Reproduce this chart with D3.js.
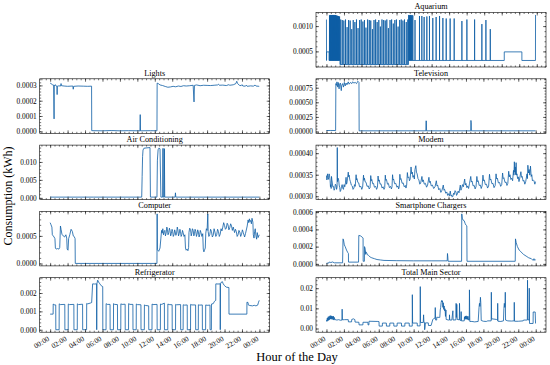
<!DOCTYPE html>
<html><head><meta charset="utf-8">
<script src="https://cdn.jsdelivr.net/npm/d3@7"></script>
<style>
body{margin:0;background:#fff}
svg{display:block}
text{font-family:"Liberation Serif","DejaVu Serif",serif;fill:#000}
</style>
</head><body>
<svg id="c" width="550" height="365"></svg>
<script>
// ---------------- DATA (hours of day, kWh) ----------------
const xTickHours = [0,2,4,6,8,10,12,14,16,18,20,22,24];
const xTickLabels = ['00:00','02:00','04:00','06:00','08:00','10:00','12:00','14:00','16:00','18:00','20:00','22:00','00:00'];

const aquariumStart = [[0,0.00113],[0.01,0.00032],[0.02,0.00049]];
const aquariumBase = [[0,0.00049],[0.3,0.00032],[1.54,0.00024],[9.35,0.00032],[20.29,0.00049],[22.3,0.00032]];
const aquariumSpikes = [
 [0.34,0.00121],[0.39,0.00122],[0.44,0.00121],[0.49,0.00122],[0.54,0.00122],[0.59,0.00121],[0.64,0.00122],[0.69,0.00122],
 [0.74,0.00121],[0.79,0.00122],[0.84,0.00122],[0.89,0.00121],[0.94,0.00122],[0.99,0.00121],[1.04,0.00122],[1.09,0.00121],
 [1.14,0.0012],[1.19,0.00121],[1.24,0.0012],[1.29,0.0012],[1.34,0.00119],[1.39,0.0012],[1.44,0.00118],[1.49,0.00119],
 [1.62,0.00113],[1.8,0.00112],[1.98,0.00111],[2.17,0.00113],[2.35,0.00098],[2.52,0.00112],[2.7,0.00111],[2.88,0.00094],
 [3.05,0.00112],[3.24,0.00108],[3.42,0.00113],[3.6,0.00096],[3.78,0.00112],[3.96,0.00113],[4.15,0.00109],[4.33,0.00112],
 [4.5,0.00097],[4.69,0.00113],[4.88,0.00112],[5.05,0.00111],[5.24,0.00094],[5.42,0.00112],[5.6,0.00113],[5.78,0.00108],
 [5.97,0.00112],[6.15,0.00099],[6.33,0.00113],[6.52,0.00112],[6.7,0.00111],[6.88,0.00113],[7.06,0.00096],[7.25,0.00112],
 [7.43,0.00113],[7.62,0.00105],[7.8,0.00112],[7.98,0.00113],[8.17,0.00099],[8.35,0.00112],[8.53,0.00113],[8.72,0.00111],
 [8.9,0.00113],[9.1,0.00108],[9.28,0.00113],
 [9.38,0.00122],[9.45,0.00121],[9.52,0.00122],[9.6,0.00122],[9.68,0.00121],[9.76,0.00122],[9.85,0.00121],
 [10.1,0.00112],[10.61,0.0012],[10.88,0.0012],[11.14,0.00118],[11.45,0.00119],[11.75,0.0012],[12.13,0.00116],
 [12.51,0.00118],[12.9,0.0012],[13.28,0.00116],[13.66,0.00115],
 [14.11,0.00115],[14.57,0.00115],[15.45,0.0011],[16.02,0.00113],[16.9,0.00113],[17.73,0.00104],[18.19,0.00112],[18.69,0.00094]
];
const aquariumEnd = [[23.85,0.00032],[23.86,0.00122]];

const lights = [[0,0.000315],[0.1,0.000312],[0.25,0.000305],[0.4,0.000302],[0.45,0.000081],[0.47,0.0003],[0.55,0.000298],[0.6,0.000305],
 [0.7,0.000295],[0.78,0.000293],[0.8,0.00024],[0.82,0.000295],[1.0,0.000297],[1.2,0.000296],[1.25,0.000312],[1.3,0.000298],[1.6,0.000296],
 [2.0,0.000294],[2.6,0.000296],[2.65,0.000275],[2.7,0.000294],[3.2,0.000296],[3.8,0.000295],[4.3,0.000294],[4.75,0.000295],[4.77,0.000004],
 [6.0,0.000003],[7.0,0.000005],[8.0,0.000003],[9.0,0.000004],[10.3,0.000003],[10.33,0.000109],[10.36,0.000003],[11.5,0.000004],[12.25,0.000003],
 [12.27,0.000315],[12.4,0.000312],[12.6,0.000303],[12.9,0.000299],[13.2,0.000293],[13.5,0.000288],[13.8,0.00029],[14.1,0.000294],[14.4,0.000291],
 [14.7,0.000296],[15.0,0.000293],[15.3,0.000298],[15.6,0.000296],[16.0,0.000298],[16.4,0.000301],[16.5,0.000192],[16.55,0.0003],[16.8,0.000303],
 [17.2,0.000298],[17.6,0.000301],[18.0,0.0003],[18.4,0.000299],[18.8,0.000301],[19.2,0.000303],[19.3,0.000308],[19.4,0.000301],[19.8,0.000302],
 [20.2,0.000299],[20.5,0.000305],[20.6,0.000301],[21.0,0.000304],[21.3,0.000312],[21.4,0.000327],[21.5,0.000312],[21.7,0.000301],[21.9,0.000298],
 [22.0,0.000305],[22.1,0.000296],[22.4,0.000295],[22.5,0.000302],[22.6,0.000294],[23.0,0.000297],[23.3,0.000295],[23.5,0.000302],[23.6,0.000296],[23.98,0.000294]];

const television = [[0,0.000017],[0.5,0.000018],[1.05,0.000017],[1.08,0.00082],[1.15,0.00079],[1.2,0.00085],[1.3,0.00076],[1.35,0.00084],
 [1.45,0.00073],[1.5,0.00081],[1.6,0.00083],[1.7,0.0007],[1.75,0.00079],[1.85,0.00082],[1.95,0.00076],[2.05,0.00084],[2.15,0.00078],[2.25,0.00083],
 [2.35,0.0008],[2.5,0.00085],[2.6,0.00081],[2.75,0.00084],[2.9,0.00082],[3.0,0.00085],[3.15,0.00083],[3.3,0.00084],[3.45,0.00082],[3.6,0.00086],
 [3.73,0.00084],[3.75,0.000012],[6,0.000012],[9,0.000012],[11.4,0.000012],[11.42,0.000186],[11.46,0.00018],[11.48,0.000012],[16.55,0.000012],
 [16.57,0.00019],[16.6,0.00015],[16.62,0.000012],[23.98,0.000012]];

const airConditioning = [[0,0.0002],[5,0.0002],[10.5,0.0002],[10.55,0.006],[10.6,0.0115],[10.65,0.0133],[10.75,0.0138],[11.0,0.0139],[11.45,0.014],
 [11.5,0.0002],[12.25,0.0002],[12.3,0.0105],[12.38,0.0134],[12.5,0.0139],[12.6,0.0136],[12.7,0.0002],[12.9,0.0002],[12.92,0.0137],[12.96,0.0138],
 [12.98,0.0002],[13.08,0.0002],[13.1,0.0137],[13.14,0.0002],[14.33,0.0002],[14.37,0.0014],[14.41,0.0002],[23.98,0.0002]];

const modem = [[0,0.000348],[0.04,0.000338],[0.08,0.000341],[0.12,0.000352],[0.15,0.00035],[0.2,0.000339],[0.25,0.000343],[0.3,0.000352],[0.35,0.000349],
 [0.42,0.000336],[0.46,0.000322],[0.5,0.000327],[0.54,0.000318],[0.58,0.000346],[0.62,0.000338],[0.66,0.000333],[0.72,0.000322],[0.8,0.000323],
 [0.88,0.000314],[0.95,0.000318],[1.02,0.000328],[1.1,0.000326],[1.16,0.000316],[1.22,0.000321],[1.24,0.000413],[1.27,0.000334],[1.33,0.000342],
 [1.4,0.000338],[1.46,0.000326],[1.52,0.00032],[1.58,0.000311],[1.65,0.000314],[1.72,0.000322],[1.8,0.000327],[1.88,0.000318],[1.95,0.000316],
 [2.02,0.000327],[2.1,0.000322],[2.18,0.000331],[2.25,0.000344],[2.3,0.000328],[2.35,0.000331],[2.42,0.000342],[2.5,0.000356],[2.55,0.000345],
 [2.6,0.000349],[2.68,0.000338],[2.75,0.000334],[2.85,0.000326],[2.95,0.000324],[3.05,0.000316],[3.15,0.000319],[3.22,0.000327],[3.3,0.000323],
 [3.4,0.00035],[3.45,0.000338],[3.5,0.000341],[3.6,0.000332],[3.7,0.000331],[3.8,0.000322],[3.95,0.000323],[4.05,0.000316],[4.15,0.000321],
 [4.25,0.000349],[4.3,0.000337],[4.35,0.000342],[4.45,0.000333],[4.55,0.000332],[4.65,0.000323],[4.8,0.000324],[4.9,0.000317],[5.0,0.00032],
 [5.08,0.000348],[5.14,0.000336],[5.2,0.000339],[5.3,0.000329],[5.4,0.00033],[5.5,0.000321],[5.65,0.000323],[5.75,0.000316],[5.85,0.000321],
 [5.92,0.000347],[5.98,0.000335],[6.05,0.000338],[6.15,0.000328],[6.25,0.000329],[6.38,0.000319],[6.5,0.000322],[6.6,0.000316],[6.68,0.00032],
 [6.75,0.000349],[6.8,0.000337],[6.88,0.000339],[7.0,0.000328],[7.1,0.00033],[7.22,0.00032],[7.35,0.000323],[7.45,0.000317],[7.52,0.000322],
 [7.58,0.00035],[7.64,0.000338],[7.7,0.00034],[7.82,0.000329],[7.95,0.00033],[8.08,0.000321],[8.2,0.000324],[8.28,0.000317],[8.35,0.000322],
 [8.42,0.000351],[8.48,0.000339],[8.55,0.000341],[8.68,0.00033],[8.8,0.000331],[8.92,0.000322],[9.05,0.000325],[9.12,0.000319],[9.2,0.000326],
 [9.28,0.000355],[9.35,0.000343],[9.45,0.000345],[9.52,0.000336],[9.6,0.00034],[9.7,0.000368],[9.78,0.000352],[9.85,0.000356],[9.92,0.000344],
 [10.0,0.000348],[10.08,0.00034],[10.15,0.000362],[10.25,0.000371],[10.32,0.000356],[10.4,0.000352],[10.5,0.000341],[10.6,0.000338],[10.7,0.000328],
 [10.8,0.00033],[10.95,0.000346],[11.02,0.000334],[11.1,0.000338],[11.22,0.000328],[11.35,0.00033],[11.48,0.000321],[11.6,0.000326],[11.75,0.000344],
 [11.82,0.000332],[11.9,0.000335],[12.02,0.000324],[12.15,0.000326],[12.3,0.000318],[12.45,0.000322],[12.6,0.000336],[12.68,0.000324],[12.75,0.000326],
 [12.88,0.000315],[13.0,0.000318],[13.12,0.000309],[13.25,0.000314],[13.4,0.000326],[13.48,0.000314],[13.55,0.000316],[13.68,0.000307],[13.8,0.00031],
 [13.9,0.000302],[14.0,0.000306],[14.1,0.000301],[14.2,0.000312],[14.28,0.000301],[14.35,0.000303],[14.42,0.000298],[14.5,0.0003],[14.58,0.000307],
 [14.65,0.000304],[14.75,0.000313],[14.85,0.00031],[14.92,0.000302],[15.0,0.000305],[15.1,0.000312],[15.2,0.000308],[15.35,0.000326],[15.42,0.000314],
 [15.5,0.000318],[15.6,0.000327],[15.7,0.000322],[15.85,0.00034],[15.92,0.000326],[16.0,0.00033],[16.1,0.00032],[16.2,0.000324],[16.3,0.000318],
 [16.4,0.000329],[16.55,0.000346],[16.62,0.000333],[16.7,0.000335],[16.82,0.000324],[16.95,0.000325],[17.05,0.000317],[17.15,0.000322],[17.25,0.000346],
 [17.32,0.000334],[17.4,0.000336],[17.52,0.000325],[17.65,0.000326],[17.75,0.000318],[17.85,0.000324],[17.95,0.000349],[18.02,0.000336],[18.1,0.000338],
 [18.22,0.000327],[18.35,0.000328],[18.48,0.000319],[18.6,0.000324],[18.7,0.000351],[18.77,0.000338],[18.85,0.00034],[18.98,0.000329],[19.1,0.00033],
 [19.22,0.00032],[19.35,0.000325],[19.45,0.000352],[19.52,0.00034],[19.6,0.000342],[19.72,0.000331],[19.85,0.000332],[19.98,0.000323],[20.1,0.000327],
 [20.2,0.000354],[20.27,0.000341],[20.35,0.000343],[20.48,0.000332],[20.6,0.000333],[20.7,0.000325],[20.8,0.00033],[20.9,0.000358],[20.97,0.000345],
 [21.05,0.00035],[21.15,0.000339],[21.25,0.000342],[21.35,0.000336],[21.45,0.00036],[21.5,0.000349],[21.55,0.00038],[21.6,0.000356],[21.65,0.000368],
 [21.7,0.00035],[21.75,0.000378],[21.8,0.000349],[21.85,0.000352],[21.92,0.000341],[22.0,0.000345],[22.08,0.000334],[22.15,0.00034],[22.3,0.000357],
 [22.37,0.000344],[22.45,0.000346],[22.55,0.000335],[22.65,0.000337],[22.75,0.000328],[22.85,0.000334],[23.0,0.000352],[23.05,0.000341],[23.1,0.000372],
 [23.18,0.000354],[23.25,0.000362],[23.32,0.000349],[23.4,0.00037],[23.48,0.000346],[23.55,0.00035],[23.62,0.000336],[23.7,0.000338],[23.8,0.000336],
 [23.9,0.000328],[23.98,0.000334]];

const computer = [[0,0.00074],[0.08,0.00071],[0.15,0.00068],[0.2,0.00066],[0.25,0.00052],[0.35,0.0005],[0.45,0.00048],[0.55,0.00045],[0.6,0.00028],
 [0.7,0.00026],[0.85,0.00027],[1.0,0.00026],[1.1,0.00029],[1.18,0.00068],[1.25,0.00062],[1.35,0.00053],[1.5,0.0005],[1.65,0.00048],[1.8,0.00052],
 [1.9,0.00046],[1.95,0.00026],[2.05,0.00024],[2.12,0.00045],[2.25,0.00052],[2.4,0.00062],[2.55,0.00058],[2.65,0.0005],[2.75,0.00049],[2.86,0.00045],
 [2.88,0],[12.25,0],[12.27,0.0009],[12.3,0.00025],[12.45,0.00022],[12.6,0.00028],[12.7,0.00046],[12.78,0.0006],[12.85,0.00055],[12.92,0.00063],
 [13.0,0.00052],[13.08,0.00058],[13.15,0.0006],[13.22,0.0005],[13.3,0.00055],[13.38,0.00066],[13.45,0.00062],[13.52,0.00052],[13.6,0.00056],
 [13.68,0.00064],[13.75,0.0006],[13.82,0.0005],[13.9,0.00054],[13.98,0.00062],[14.05,0.00058],[14.12,0.00049],[14.2,0.00052],[14.28,0.00061],
 [14.35,0.00057],[14.42,0.00051],[14.5,0.00055],[14.58,0.00066],[14.65,0.00061],[14.72,0.0005],[14.8,0.00054],[14.88,0.00062],[14.95,0.00058],
 [15.02,0.00049],[15.1,0.00052],[15.18,0.0006],[15.25,0.00056],[15.35,0.00049],[15.45,0.00052],[15.52,0.00028],[15.6,0.00024],[15.7,0.00026],
 [15.8,0.00023],[15.88,0.00029],[15.92,0.00056],[16.0,0.00064],[16.1,0.00062],[16.18,0.0005],[16.25,0.00055],[16.32,0.00063],[16.4,0.0006],
 [16.48,0.0005],[16.55,0.00054],[16.62,0.00062],[16.7,0.00058],[16.78,0.00049],[16.85,0.00053],[16.92,0.00061],[17.0,0.00057],[17.08,0.00048],
 [17.15,0.00052],[17.22,0.0006],[17.3,0.00056],[17.4,0.00049],[17.5,0.00054],[17.56,0.00026],[17.63,0.00021],[17.7,0.00024],[17.79,0.00028],
 [17.85,0.00055],[17.92,0.00063],[18.0,0.0006],[18.08,0.0009],[18.12,0.00058],[18.2,0.00049],[18.3,0.00052],[18.4,0.00062],[18.5,0.00058],
 [18.6,0.00048],[18.7,0.00051],[18.8,0.00063],[18.9,0.00057],[19.0,0.00049],[19.1,0.00052],[19.2,0.00062],[19.3,0.00058],[19.4,0.00049],
 [19.5,0.00053],[19.6,0.00063],[19.7,0.00059],[19.8,0.00066],[19.9,0.00074],[20.0,0.00069],[20.1,0.00062],[20.2,0.00064],[20.3,0.00073],
 [20.4,0.0007],[20.5,0.00061],[20.6,0.00065],[20.7,0.00072],[20.8,0.00068],[20.9,0.0006],[21.0,0.00066],[21.15,0.00056],[21.25,0.00062],
 [21.35,0.00058],[21.45,0.00049],[21.55,0.00052],[21.65,0.0006],[21.75,0.00057],[21.85,0.00049],[21.95,0.00053],[22.05,0.00061],[22.15,0.00056],
 [22.3,0.00048],[22.4,0.00054],[22.6,0.00068],[22.7,0.00079],[22.78,0.00074],[22.85,0.00081],[22.92,0.00076],[23.0,0.00078],[23.08,0.00072],
 [23.15,0.00082],[23.25,0.00075],[23.3,0.00052],[23.38,0.00046],[23.45,0.00058],[23.52,0.00063],[23.6,0.0005],[23.68,0.00044],[23.75,0.00056],
 [23.85,0.00047],[23.98,0.00052]];

const smartphoneChargers = [[0,0.000005],[0.3,0.000012],[0.35,0.000022],[0.5,0.000015],[0.7,0.000022],[0.9,0.000012],[1.85,0.000012],[1.9,0.00029],
 [1.95,0.00028],[2.05,0.00022],[2.15,0.0002],[2.3,0.00016],[2.45,0.00013],[2.52,0.00012],[2.53,0.00002],[3.68,0.00002],[3.71,0.00033],[3.9,0.000325],
 [4.1,0.00031],[4.2,0.0003],[4.21,0.00003],[4.35,0.00003],[4.37,0.0002],[4.45,0.00017],[4.5,0.00011],[4.52,0.00014],[4.6,0.00013],[4.7,0.000105],
 [4.8,0.0001],[5.0,0.00008],[5.2,0.00007],[5.5,0.00006],[5.8,0.00005],[6.2,0.000045],[6.6,0.00004],[8,0.000037],[10,0.000035],[12,0.000035],
 [13.85,0.000035],[13.88,0.00012],[13.92,0.00008],[13.95,0.00003],[15.5,0.00003],[15.52,0.00058],[15.58,0.00053],[15.65,0.00051],[15.8,0.0005],
 [15.9,0.00047],[16.0,0.00045],[16.1,0.00044],[16.12,0.00003],[21.65,0.00003],[21.68,0.00029],[21.75,0.00025],[21.9,0.0002],[22.1,0.00016],
 [22.3,0.00014],[22.6,0.00011],[22.9,0.00009],[23.2,0.00007],[23.5,0.00006],[23.7,0.00004],[23.8,0.00006],[23.9,0.00004],[23.98,0.00005]];

const refrigerator = [[0,0.00085],[0.34,0.00085],[0.35,0.0014],[0.45,0.00136],[0.64,0.00135],[0.65,0],
 [1.03,0],[1.04,0.00141],[1.15,0.00137],[1.68,0.00138],[1.69,0],
 [2.07,0],[2.08,0.0014],[2.2,0.00137],[2.72,0.00138],[2.73,0],
 [3.11,0],[3.12,0.00141],[3.25,0.00137],[3.72,0.00139],[3.73,0],
 [4.18,0],[4.19,0.00143],[4.3,0.00141],[4.6,0.00145],[4.76,0.00148],[4.87,0.0025],[5.1,0.00249],[5.33,0.0025],[5.34,0],[5.36,0.0025],[5.45,0.0027],
 [5.55,0.0026],[5.7,0.0025],[5.85,0.0024],[6.03,0.00235],[6.04,0],
 [6.41,0],[6.42,0.00142],[6.55,0.00138],[6.87,0.00138],[6.88,0],
 [7.26,0],[7.27,0.00142],[7.4,0.00138],[7.72,0.00137],[7.73,0],
 [8.1,0],[8.11,0.00141],[8.25,0.00138],[8.6,0.00139],[8.61,0],
 [8.99,0],[9.0,0.00142],[9.15,0.00138],[9.49,0.00138],[9.5,0],
 [9.87,0],[9.88,0.0014],[10.0,0.00137],[10.41,0.00136],[10.42,0],
 [10.8,0],[10.81,0.00135],[10.95,0.00132],[11.3,0.0013],[11.31,0],
 [11.68,0],[11.69,0.0014],[11.8,0.00137],[12.26,0.00138],[12.27,0],
 [12.64,0],[12.65,0.0014],[12.8,0.00138],[13.1,0.00145],[13.11,0],
 [13.49,0],[13.5,0.0014],[13.65,0.00137],[13.99,0.00136],[14.0,0],
 [14.38,0],[14.39,0.00138],[14.5,0.00136],[14.96,0.00137],[14.97,0],
 [15.25,0],[15.26,0.00136],[15.4,0.00134],[15.72,0.00135],[15.73,0],
 [16.1,0],[16.11,0.00138],[16.25,0.00135],[16.68,0.00135],[16.69,0],
 [16.99,0],[17.0,0.00136],[17.15,0.00134],[17.45,0.00135],[17.46,0],
 [17.83,0],[17.84,0.00135],[18.0,0.00133],[18.33,0.00134],[18.34,0],
 [18.49,0],[18.5,0.0014],[18.7,0.00142],[18.85,0.00155],[18.99,0.0016],[19.0,0.0025],[19.25,0.00249],[19.5,0.0025],[19.51,0],[19.53,0.0025],
 [19.65,0.0026],[19.75,0.00262],[19.85,0.0025],[20.0,0.0024],[20.2,0.00232],[20.5,0.0023],[20.51,0.00085],
 [22.56,0.00085],[22.57,0.0015],[22.7,0.00148],[22.72,0.00135],[22.9,0.00132],[23.2,0.0013],[23.4,0.00133],[23.6,0.0013],[23.8,0.00134],
 [23.9,0.0015],[23.98,0.0016]];

const totalMainSector = [[0,0.0043],[0.05,0.0035],[0.1,0.0052],[0.15,0.0038],[0.2,0.0058],[0.25,0.0041],[0.3,0.006],[0.35,0.0044],[0.4,0.0063],
 [0.45,0.0047],[0.5,0.0064],[0.55,0.0046],[0.6,0.0062],[0.65,0.0047],[0.7,0.006],[0.75,0.0044],[0.8,0.0061],[0.85,0.0042],[0.9,0.0055],[0.97,0.0043],
 [1.0,0.0044],[1.2,0.0042],[1.4,0.0044],[1.6,0.0041],[1.78,0.0042],[1.8,0.0096],[1.83,0.0043],[2.07,0.0044],[2.5,0.0044],[2.52,0.0033],[2.88,0.0033],
 [2.9,0.0045],[3.1,0.0048],[3.26,0.0044],[3.28,0.0032],[3.72,0.0031],[3.74,0.0018],[4.18,0.0018],[4.19,0.0031],[4.76,0.0031],[4.77,0.0018],
 [4.87,0.0018],[4.88,0.0036],[5.9,0.0035],[6.03,0.0034],[6.04,0.0012],[6.41,0.0012],[6.42,0.0027],[6.87,0.0027],[6.88,0.0012],[7.26,0.0012],
 [7.27,0.0027],[7.72,0.0027],[7.73,0.0012],[8.1,0.0012],[8.11,0.0027],[8.6,0.0027],[8.61,0.0012],[8.99,0.0012],[9.0,0.0027],[9.49,0.0027],
 [9.5,0.0012],[9.84,0.0012],[9.85,0.0168],[9.88,0.0027],[10.41,0.0027],[10.42,0.0013],[10.74,0.0013],[10.76,0.0208],[10.79,0.003],[11.1,0.003],
 [11.14,0.0068],[11.18,0.003],[11.24,0.003],[11.26,-0.0006],[11.3,0.0003],[11.35,0.0028],[11.68,0.0028],[11.7,0.0015],[12.0,0.0015],[12.2,0.0045],
 [12.26,0.0048],[12.45,0.0052],[12.48,0.0104],[12.52,0.0042],[12.64,0.0042],[12.65,0.0056],[12.95,0.0055],
 [13.0,0.0055],[13.05,0.0092],[13.1,0.0105],[13.15,0.0128],[13.2,0.0139],[13.25,0.0132],[13.3,0.0138],[13.35,0.0105],[13.4,0.0128],[13.45,0.0095],
 [13.5,0.0112],[13.55,0.0088],[13.6,0.0098],[13.65,0.006],[13.7,0.0092],[13.73,0.0045],
 [14.0,0.0042],[14.1,0.0043],[14.11,0.0068],[14.14,0.0042],[14.38,0.0042],[14.5,0.0088],[14.53,0.0042],[14.85,0.0043],[14.87,0.0125],[14.9,0.0055],
 [14.95,0.012],[15.0,0.0045],[15.24,0.0043],[15.26,0.0125],[15.3,0.0042],[15.43,0.004],[15.45,0.0084],[15.48,0.0038],[15.8,0.0038],
 [15.83,0.0058],[15.88,0.0045],[15.93,0.0062],[15.98,0.0047],[16.03,0.0063],[16.08,0.0046],[16.13,0.006],[16.18,0.0045],[16.23,0.0061],[16.3,0.0042],
 [16.38,0.0042],[16.4,0.0192],[16.44,0.0035],[16.68,0.0035],[17.0,0.0033],[17.4,0.0035],[17.5,0.0105],[17.55,0.0125],[17.6,0.011],[17.66,0.0155],
 [17.7,0.0128],[17.75,0.004],[18.0,0.0036],[18.33,0.0035],[18.5,0.0038],[18.89,0.0038],[18.91,0.018],[18.94,0.0045],[19.0,0.0048],[19.5,0.0045],
 [19.62,0.004],[19.64,0.0125],[19.67,0.0036],[20.0,0.0035],[20.3,0.0038],[20.35,0.01],[20.4,0.0125],[20.45,0.0105],[20.49,0.0115],[20.51,0.018],
 [20.54,0.0042],[20.8,0.0038],[21.2,0.0037],[21.52,0.0038],[21.54,0.013],[21.57,0.0036],[22.0,0.0036],[22.56,0.0038],[22.6,0.0042],[23.04,0.0042],
 [23.06,0.024],[23.09,0.0044],[23.24,0.0042],[23.26,0.02],[23.29,0.0025],[23.7,0.0025],[23.71,0.0082],[23.94,0.0082],[23.98,0.0025]];

// ---------------- BUILD aquarium line from typed base levels and spikes ----------------
function baseAt(t){ let v = aquariumBase[0][1]; for (const [s,l] of aquariumBase) if (t >= s) v = l; return v; }
const aqEvents = [];
aquariumBase.slice(1).forEach(([s,l],i) => { aqEvents.push([s, aquariumBase[i][1]]); aqEvents.push([s, l]); });
aquariumSpikes.forEach(([t,p]) => { const b = baseAt(t); aqEvents.push([t,b],[t+0.006,p],[t+0.012,b]); });
aqEvents.sort((a,b) => a[0]-b[0]);
const aquarium = aquariumStart.concat(aqEvents, aquariumEnd);

// ---------------- PANELS ----------------
const panels = [
 {title:'Aquarium', col:1, row:0, data:aquarium, yTicks:[0.0005,0.001], fmt:'.4f', minor:0.0001},
 {title:'Lights', col:0, row:1, data:lights, yTicks:[0,0.0001,0.0002,0.0003], fmt:'.4f', minor:0.00002},
 {title:'Television', col:1, row:1, data:television, yTicks:[0,0.00025,0.0005,0.00075], fmt:'.5f', minor:0.00005},
 {title:'Air Conditioning', col:0, row:2, data:airConditioning, yTicks:[0,0.005,0.01], fmt:'.3f', minor:0.001},
 {title:'Modem', col:1, row:2, data:modem, yTicks:[0.0003,0.00035,0.0004], fmt:'.5f', minor:0.00001},
 {title:'Computer', col:0, row:3, data:computer, yTicks:[0,0.0005], fmt:'.4f', minor:0.0001},
 {title:'Smartphone Chargers', col:1, row:3, data:smartphoneChargers, yTicks:[0,0.0002,0.0004,0.0006], fmt:'.4f', minor:0.00005},
 {title:'Refrigerator', col:0, row:4, data:refrigerator, yTicks:[0,0.001,0.002], fmt:'.3f', minor:0.0002},
 {title:'Total Main Sector', col:1, row:4, data:totalMainSector, yTicks:[0,0.01,0.02], fmt:'.2f', minor:0.002}
];

// ---------------- LAYOUT ----------------
const COLX = [39.7, 316], W = 230;
const ROWY = [12.5, 78.8, 145.1, 211.4, 277.7], H = 54.5;
const COLOR = '#0C5DA5';
const TICK_FS = 7.3, TITLE_FS = 8.2;
const svg = d3.select('#c');

function minorVals(domain, step){
  const lo = Math.min(domain[0],domain[1]), hi = Math.max(domain[0],domain[1]);
  const out = [];
  for (let k = Math.ceil(lo/step - 1e-9); k*step <= hi + 1e-12; k++) out.push(k*step);
  return out;
}
function styleAxis(g){
  g.select('.domain').remove();
  g.selectAll('line').attr('stroke','#000').attr('stroke-width',0.55);
  g.selectAll('text').style('font-size', TICK_FS+'px').attr('fill','#000');
}

panels.forEach(p => {
  const gx = COLX[p.col], gy = ROWY[p.row];
  const g = svg.append('g').attr('transform', `translate(${gx},${gy})`);
  const xe = d3.extent(p.data, d => d[0]), xp = (xe[1]-xe[0])*0.05;
  const x = d3.scaleLinear().domain([xe[0]-xp, xe[1]+xp]).range([0, W]);
  const ye = d3.extent(p.data, d => d[1]), yp = (ye[1]-ye[0])*0.05;
  const y = d3.scaleLinear().domain([ye[0]-yp, ye[1]+yp]).range([H, 0]);

  const line = d3.line().x(d => x(d[0])).y(d => y(d[1]));
  g.append('path').datum(p.data).attr('d', line).attr('fill','none')
    .attr('stroke', COLOR).attr('stroke-width', 0.8).attr('stroke-linejoin','round');

  g.append('g').call(d3.axisLeft(y).tickValues(p.yTicks).tickSize(-3).tickPadding(3).tickFormat(d3.format(p.fmt))).call(styleAxis);
  g.append('g').call(d3.axisLeft(y).tickValues(minorVals(y.domain(), p.minor)).tickSize(-1.5).tickFormat('')).call(styleAxis);
  g.append('g').attr('transform',`translate(${W},0)`).call(d3.axisRight(y).tickValues(p.yTicks).tickSize(-3).tickFormat('')).call(styleAxis);
  g.append('g').attr('transform',`translate(${W},0)`).call(d3.axisRight(y).tickValues(minorVals(y.domain(), p.minor)).tickSize(-1.5).tickFormat('')).call(styleAxis);

  const xMinor = minorVals(x.domain(), 0.5);
  const bottom = g.append('g').attr('transform',`translate(0,${H})`)
    .call(d3.axisBottom(x).tickValues(xTickHours).tickSize(-3).tickPadding(3)
      .tickFormat((d,i) => p.row === 4 ? xTickLabels[i] : '')).call(styleAxis);
  bottom.selectAll('text').attr('y', null).attr('dy', null).attr('text-anchor','end')
    .attr('transform', 'translate(-0.8,7.8) rotate(-32)');
  g.append('g').attr('transform',`translate(0,${H})`).call(d3.axisBottom(x).tickValues(xMinor).tickSize(-1.5).tickFormat('')).call(styleAxis);
  g.append('g').call(d3.axisTop(x).tickValues(xTickHours).tickSize(-3).tickFormat('')).call(styleAxis);
  g.append('g').call(d3.axisTop(x).tickValues(xMinor).tickSize(-1.5).tickFormat('')).call(styleAxis);

  g.append('rect').attr('width', W).attr('height', H).attr('fill','none').attr('stroke','#000').attr('stroke-width',0.6);

  g.append('text').attr('x', W/2).attr('y', -3.2).attr('text-anchor','middle')
    .style('font-size', TITLE_FS+'px').text(p.title);
});

svg.append('text').attr('transform','translate(12,196) rotate(-90)').attr('text-anchor','middle')
  .style('font-size','12px').text('Consumption (kWh)');
svg.append('text').attr('x', 297).attr('y', 361).attr('text-anchor','middle')
  .style('font-size','12.5px').text('Hour of the Day');
</script>
</body></html>
